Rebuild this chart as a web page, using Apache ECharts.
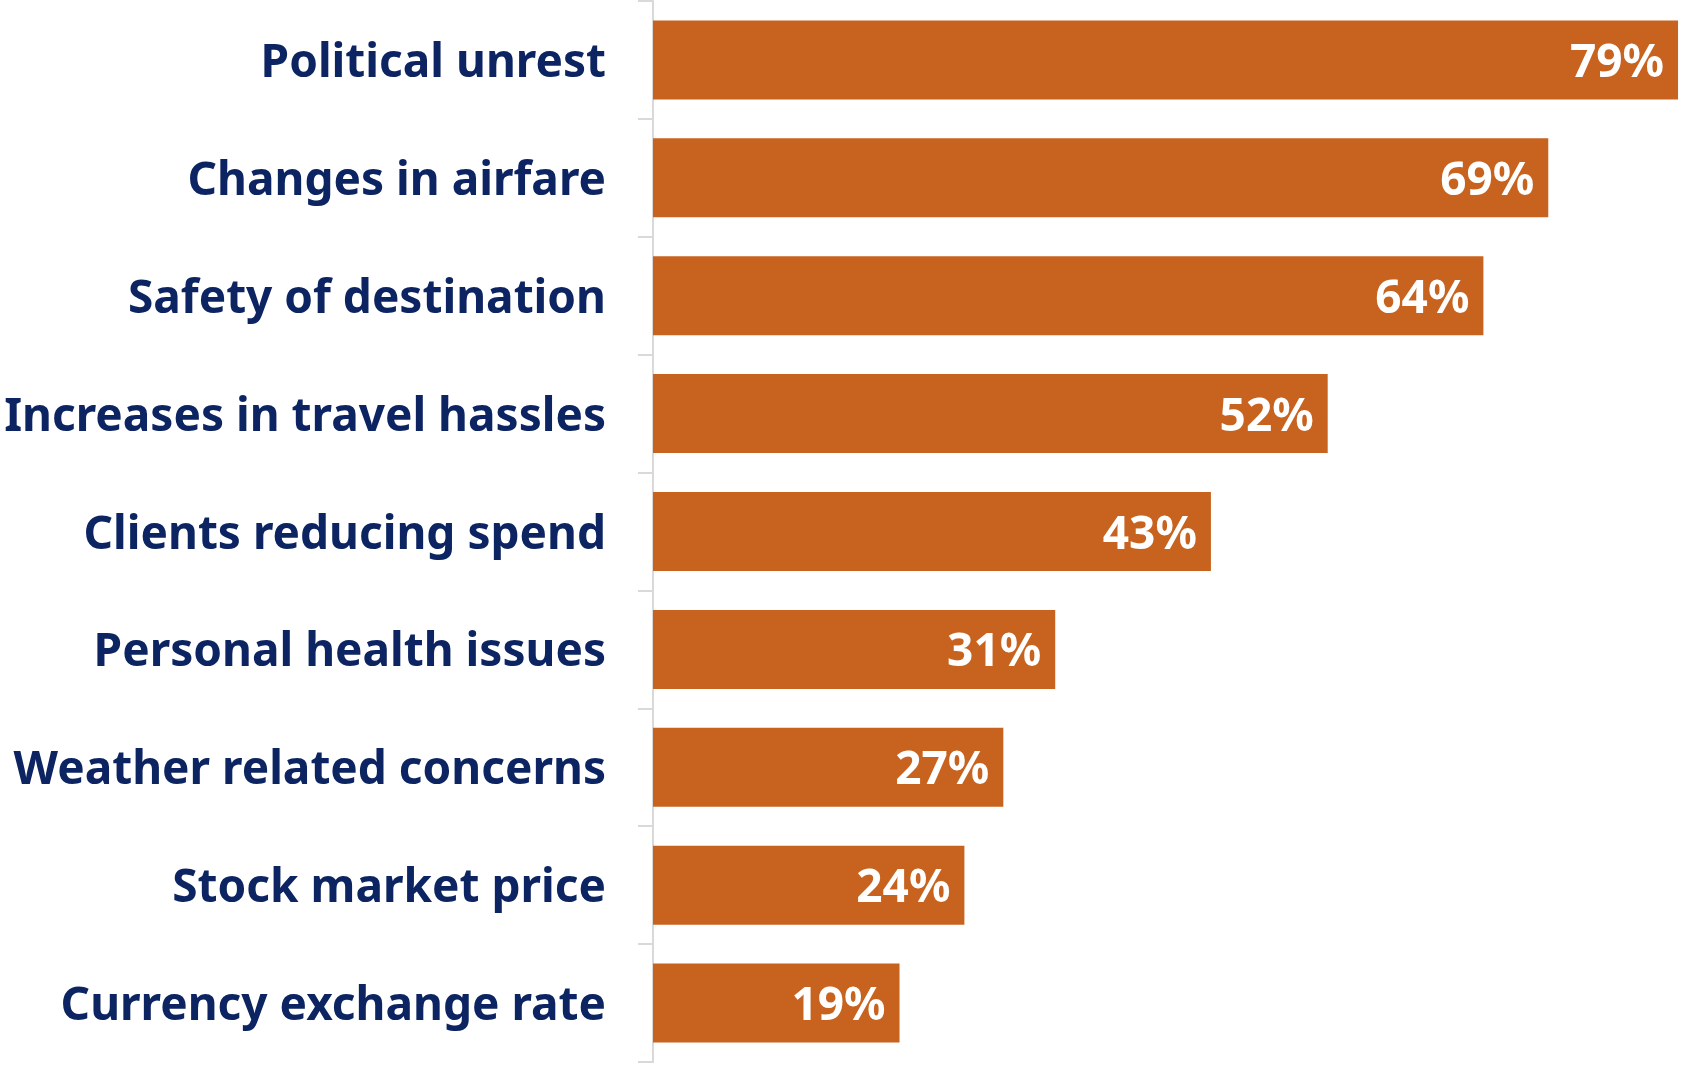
<!DOCTYPE html>
<html>
<head>
<meta charset="utf-8">
<script src="https://cdn.jsdelivr.net/npm/echarts@6/dist/echarts.min.js"></script>
<style>
  html, body { margin: 0; padding: 0; background: #ffffff; }
  #chart { width: 1691px; height: 1066px; }
</style>
</head>
<body>
<div id="chart"></div>
<script>
// Concerns affecting travel, share of respondents (%)
const categories = [
  'Political unrest',
  'Changes in airfare',
  'Safety of destination',
  'Increases in travel hassles',
  'Clients reducing spend',
  'Personal health issues',
  'Weather related concerns',
  'Stock market price',
  'Currency exchange rate'
];
const values = [79, 69, 64, 52, 43, 31, 27, 24, 19];

const textFont = {
  fontFamily: 'Noto Sans',
  fontWeight: 'bold',
  fontSize: 46,
  padding: [8, 0, 0, 0]
};

const chart = echarts.init(document.getElementById('chart'));
chart.setOption({
  animation: false,
  grid: { left: 653, right: 0, top: 1, bottom: 4, containLabel: false },
  xAxis: {
    type: 'value',
    min: 0,
    max: 80,
    show: false
  },
  yAxis: {
    type: 'category',
    data: categories,
    inverse: true,
    axisLine: { show: true, lineStyle: { color: '#d9d9d9', width: 2 } },
    axisTick: { show: true, length: 15, lineStyle: { color: '#d9d9d9', width: 2 } },
    axisLabel: {
      margin: 47,
      formatter: (v) => '{t|' + v + '}',
      rich: { t: Object.assign({ color: '#0c2461' }, textFont) }
    }
  },
  series: [{
    type: 'bar',
    data: values,
    barCategoryGap: '33%',
    itemStyle: { color: '#c8631f' },
    label: {
      show: true,
      position: 'insideRight',
      distance: 14,
      formatter: '{t|{c}%}',
      rich: { t: Object.assign({ color: '#ffffff' }, textFont) }
    }
  }]
});
</script>
</body>
</html>
